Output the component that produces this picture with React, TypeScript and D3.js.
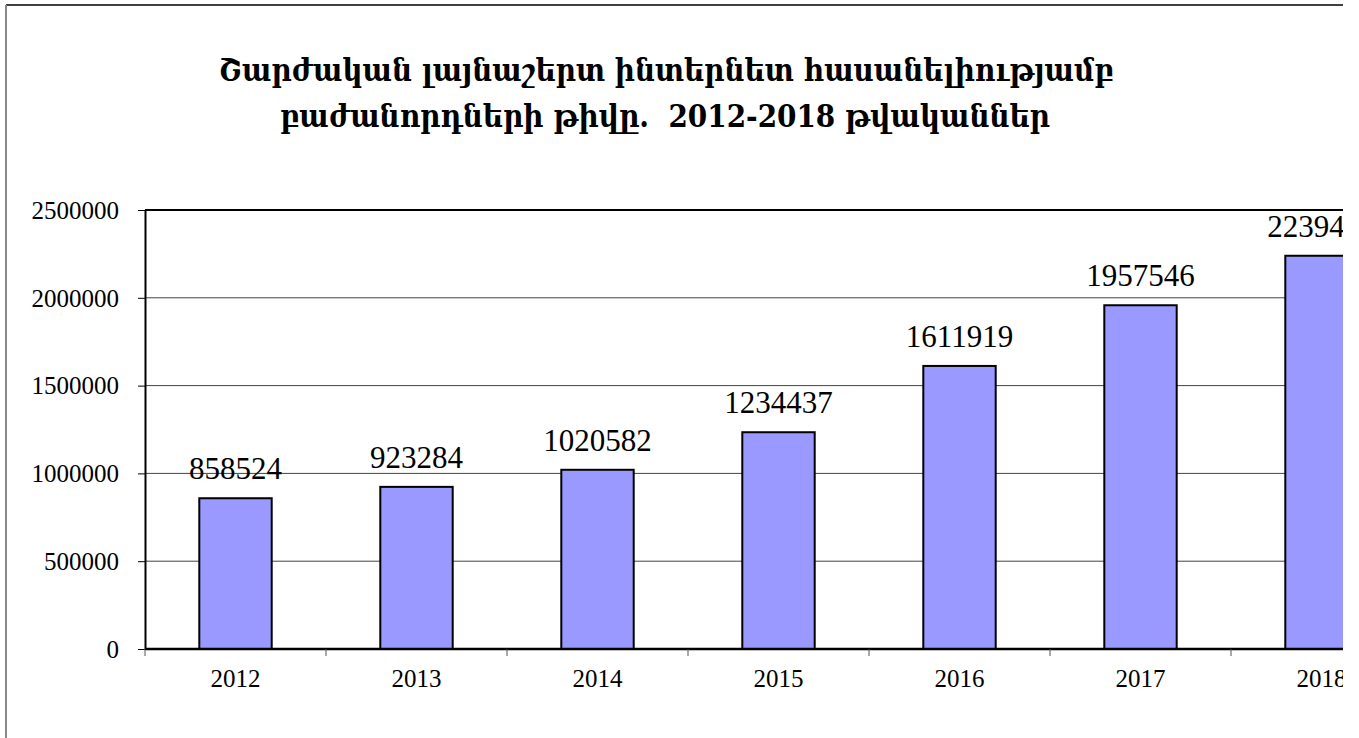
import React, { useEffect, useRef } from 'react';
import * as d3 from 'd3';

// data
const years = ['2012', '2013', '2014', '2015', '2016', '2017', '2018'];
const subscribers = [858524, 923284, 1020582, 1234437, 1611919, 1957546, 2239431];
const yTicks = [0, 500000, 1000000, 1500000, 2000000, 2500000];
const titleLines = [
  'Շարժական լայնաշերտ ինտերնետ հասանելիությամբ',
  'բաժանորդների թիվը.  2012-2018 թվականներ',
];

const W = 1359;
const H = 738;

export default function App() {
  const ref = useRef<SVGSVGElement | null>(null);

  useEffect(() => {
    const svg = d3.select(ref.current);
    svg.selectAll('*').remove();

    const margin = { top: 210, left: 145 };
    const plotH = 439;
    const step = 181;
    const plotW = step * years.length;
    const cutAt = 1343; // the original picture is cropped here

    const root = svg.append('g');

    // outer frame (only top and left visible)
    root.append('line').attr('x1', 6).attr('x2', cutAt).attr('y1', 5).attr('y2', 5)
      .attr('stroke', '#000').attr('stroke-width', 1.5);
    root.append('line').attr('x1', 6).attr('x2', 6).attr('y1', 5).attr('y2', H)
      .attr('stroke', '#888').attr('stroke-width', 2);

    // title
    const title = root.append('text')
      .attr('text-anchor', 'middle')
      .attr('font-family', '"DejaVu Serif Condensed", "DejaVu Serif", serif')
      .attr('font-weight', 'bold')
      .attr('font-size', 31)
      .attr('fill', '#000')
      .style('white-space', 'pre');
    title.append('tspan').attr('x', 666).attr('y', 81).text(titleLines[0]);
    title.append('tspan').attr('x', 665).attr('y', 127).text(titleLines[1]);

    const x = d3.scaleBand().domain(years).range([0, plotW]).padding(0);
    const y = d3.scaleLinear().domain([0, 2500000]).range([plotH, 0]);

    const g = root.append('g').attr('transform', `translate(${margin.left},${margin.top})`);

    // grid
    g.selectAll('line.grid').data(yTicks.slice(1, -1)).enter().append('line')
      .attr('class', 'grid')
      .attr('x1', 0).attr('x2', plotW)
      .attr('y1', d => y(d)).attr('y2', d => y(d))
      .attr('stroke', '#444').attr('stroke-width', 1);

    // plot top border
    g.append('line').attr('x1', 0).attr('x2', plotW).attr('y1', 0).attr('y2', 0)
      .attr('stroke', '#000').attr('stroke-width', 2);

    // y axis
    const yAxis = g.append('g').call(
      d3.axisLeft(y).tickValues(yTicks).tickSize(7).tickSizeOuter(0).tickPadding(19)
        .tickFormat(d => String(d))
    );
    yAxis.select('.domain').attr('stroke', '#000').attr('stroke-width', 2);
    yAxis.selectAll('.tick line').attr('stroke', '#000').attr('stroke-width', 1);
    yAxis.selectAll('.tick text')
      .attr('font-family', '"Liberation Serif", "Times New Roman", serif')
      .attr('font-size', 25).attr('fill', '#000').attr('dy', '0.33em');

    // bars
    const barW = x.bandwidth() * 0.4;
    g.selectAll('rect.bar').data(subscribers).enter().append('rect')
      .attr('class', 'bar')
      .attr('x', (d, i) => (x(years[i]) as number) + (x.bandwidth() - barW) / 2)
      .attr('width', barW)
      .attr('y', d => y(d))
      .attr('height', d => plotH - y(d))
      .attr('fill', '#9999ff')
      .attr('stroke', '#000')
      .attr('stroke-width', 2);

    // value labels
    g.selectAll('text.val').data(subscribers).enter().append('text')
      .attr('class', 'val')
      .attr('x', (d, i) => (x(years[i]) as number) + x.bandwidth() / 2)
      .attr('y', d => y(d) - 19)
      .attr('text-anchor', 'middle')
      .attr('font-family', '"Liberation Serif", "Times New Roman", serif')
      .attr('font-size', 31)
      .attr('fill', '#000')
      .text(d => String(d));

    // x axis
    const xAxis = g.append('g').attr('transform', `translate(0,${plotH})`).call(
      d3.axisBottom(x).tickSize(0).tickPadding(20)
    );
    xAxis.select('.domain').remove();
    xAxis.selectAll('.tick text')
      .attr('font-family', '"Liberation Serif", "Times New Roman", serif')
      .attr('font-size', 25).attr('fill', '#000');
    g.append('line').attr('x1', 0).attr('x2', plotW).attr('y1', plotH).attr('y2', plotH)
      .attr('stroke', '#000').attr('stroke-width', 2.5);
    g.selectAll('line.xtick').data(d3.range(years.length + 1)).enter().append('line')
      .attr('class', 'xtick')
      .attr('x1', i => i * step).attr('x2', i => i * step)
      .attr('y1', plotH).attr('y2', plotH + 7)
      .attr('stroke', '#555').attr('stroke-width', 1);

    // white strip where the source image was cropped
    svg.append('rect').attr('x', cutAt).attr('y', 0)
      .attr('width', W - cutAt).attr('height', H).attr('fill', '#fff');
  }, []);

  return (
    <div style={{ position: 'absolute', left: 0, top: 0, width: W, height: H, background: '#fff' }}>
      <svg ref={ref} width={W} height={H} style={{ display: 'block' }} />
    </div>
  );
}
